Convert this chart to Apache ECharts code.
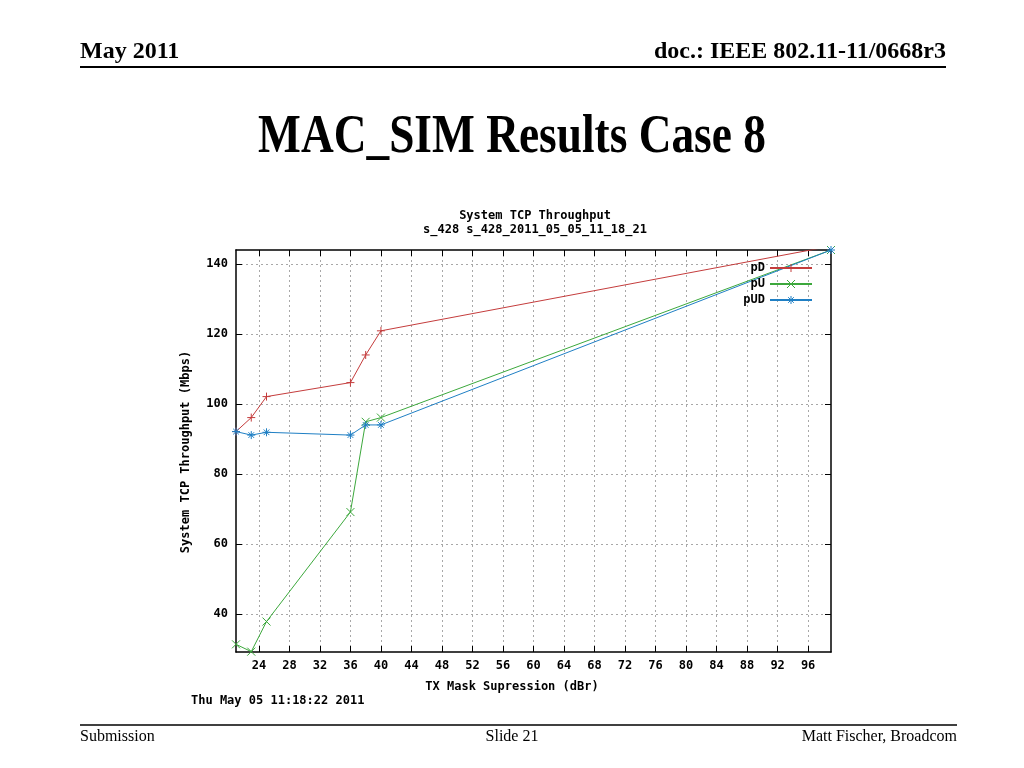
<!DOCTYPE html>
<html>
<head>
    <meta charset="utf-8">
    <title>MAC_SIM Results Case 8</title>
    <script src="https://cdn.jsdelivr.net/npm/echarts@6/dist/echarts.min.js"></script>
    <style>
        html, body { margin: 0; padding: 0; background: #fff; }
    </style>
</head>
<body>
    <div id="main" style="width: 1024px;height: 768px;"></div>
    <script type="text/javascript">
        // TX mask suppression values (dBr)
        var xValues = [21, 23, 25, 36, 38, 40, 99];
        // throughput (Mbps) per series
        var pD = [92.1, 96.1, 102.1, 106.1, 114.0, 120.9, 145.1];
        var pU = [31.3, 29.2, 37.8, 69.1, 94.9, 96.1, 144.0];
        var pUD = [92.1, 91.1, 91.9, 91.1, 94.0, 94.0, 144.0];
        var seriesNames = ['pD', 'pU', 'pUD'];
        // tick labels
        var xTicks = [24, 28, 32, 36, 40, 44, 48, 52, 56, 60, 64, 68, 72, 76, 80, 84, 88, 92, 96];
        var yTicks = [40, 60, 80, 100, 120, 140];

        var mono = '"DejaVu Sans Mono", monospace';
        var serif = '"Liberation Serif", "Times New Roman", serif';

        function pairs(ys) {
            return xValues.map(function (x, i) { return [x, ys[i]]; });
        }

        var plusSym = 'path://M0,5L10,5M5,0L5,10';
        var crossSym = 'path://M0,0L10,10M10,0L0,10';
        var starSym = 'path://M0,5L10,5M5,0L5,10M1.5,1.5L8.5,8.5M8.5,1.5L1.5,8.5';

        function lineSeries(name, data, color, sym) {
            return {
                name: name,
                type: 'line',
                data: pairs(data),
                symbol: sym,
                symbolSize: 8,
                showAllSymbol: true,
                clip: true,
                lineStyle: { color: color, width: 1 },
                itemStyle: { color: color, borderColor: color, borderWidth: 1 },
                emphasis: { disabled: true },
                animation: false
            };
        }

        var myChart = echarts.init(document.getElementById('main'));

        function axisBase(pos, ticks, min, max, showLabel) {
            return {
                type: 'value',
                position: pos,
                min: min,
                max: max,
                axisLine: { show: true, onZero: false, lineStyle: { color: '#000', width: 1.5 } },
                axisTick: { show: true, inside: true, length: 6, customValues: ticks, lineStyle: { color: '#000' } },
                axisLabel: {
                    show: showLabel,
                    customValues: ticks,
                    color: '#000',
                    fontFamily: mono,
                    fontWeight: 'bold',
                    fontSize: 12,
                    margin: 8
                },
                splitLine: {
                    show: showLabel,
                    lineStyle: { color: '#a8a8a8', type: [2, 3], width: 1 }
                }
            };
        }

        var option = {
            backgroundColor: '#fff',
            animation: false,
            grid: { left: 236, top: 250, width: 595, height: 402, containLabel: false },
            xAxis: [
                axisBase('bottom', xTicks, 21, 99, true),
                axisBase('top', xTicks, 21, 99, false)
            ],
            yAxis: [
                axisBase('left', yTicks, 29.1, 144, true),
                axisBase('right', yTicks, 29.1, 144, false)
            ],
            legend: {
                data: seriesNames,
                orient: 'vertical',
                align: 'right',
                right: 206,
                top: 257,
                itemWidth: 42,
                itemHeight: 10,
                itemGap: 4,
                itemStyle: { borderWidth: 1 },
                backgroundColor: 'transparent',
                textStyle: { color: '#000', fontFamily: mono, fontWeight: 'bold', fontSize: 12, padding: [0, 0, 0, 0] }
            },
            series: [
                lineSeries('pD', pD, '#c43c3c', plusSym),
                lineSeries('pU', pU, '#3ca83c', crossSym),
                lineSeries('pUD', pUD, '#1f7fc4', starSym)
            ],
            graphic: [
                { type: 'text', x: 80, y: 52, style: { text: 'May 2011', font: 'bold 24px ' + serif, fill: '#000', verticalAlign: 'middle' } },
                { type: 'text', x: 946, y: 52, style: { text: 'doc.: IEEE 802.11-11/0668r3', font: 'bold 24px ' + serif, fill: '#000', align: 'right', verticalAlign: 'middle' } },
                { type: 'line', shape: { x1: 80, y1: 67, x2: 946, y2: 67 }, style: { stroke: '#000', lineWidth: 2 } },
                { type: 'text', x: 512, y: 138, scaleX: 0.84, style: { text: 'MAC_SIM Results Case 8', font: 'bold 54px ' + serif, fill: '#000', align: 'center', verticalAlign: 'middle' } },
                { type: 'text', x: 535, y: 216, style: { text: 'System TCP Throughput', font: 'bold 12px ' + mono, fill: '#000', align: 'center', verticalAlign: 'middle' } },
                { type: 'text', x: 535, y: 230, style: { text: 's_428 s_428_2011_05_05_11_18_21', font: 'bold 12px ' + mono, fill: '#000', align: 'center', verticalAlign: 'middle' } },
                { type: 'text', x: 186, y: 452, rotation: Math.PI / 2, style: { text: 'System TCP Throughput (Mbps)', font: 'bold 12px ' + mono, fill: '#000', align: 'center', verticalAlign: 'middle' } },
                { type: 'text', x: 512, y: 687, style: { text: 'TX Mask Supression (dBr)', font: 'bold 12px ' + mono, fill: '#000', align: 'center', verticalAlign: 'middle' } },
                { type: 'text', x: 191, y: 701, style: { text: 'Thu May 05 11:18:22 2011', font: 'bold 12px ' + mono, fill: '#000', verticalAlign: 'middle' } },
                { type: 'line', shape: { x1: 80, y1: 725, x2: 957, y2: 725 }, style: { stroke: '#000', lineWidth: 1.5 } },
                { type: 'text', x: 80, y: 737, style: { text: 'Submission', font: '16px ' + serif, fill: '#000', verticalAlign: 'middle' } },
                { type: 'text', x: 512, y: 737, style: { text: 'Slide 21', font: '16px ' + serif, fill: '#000', align: 'center', verticalAlign: 'middle' } },
                { type: 'text', x: 957, y: 737, style: { text: 'Matt Fischer, Broadcom', font: '16px ' + serif, fill: '#000', align: 'right', verticalAlign: 'middle' } }
            ]
        };

        myChart.setOption(option);
    </script>
</body>
</html>
